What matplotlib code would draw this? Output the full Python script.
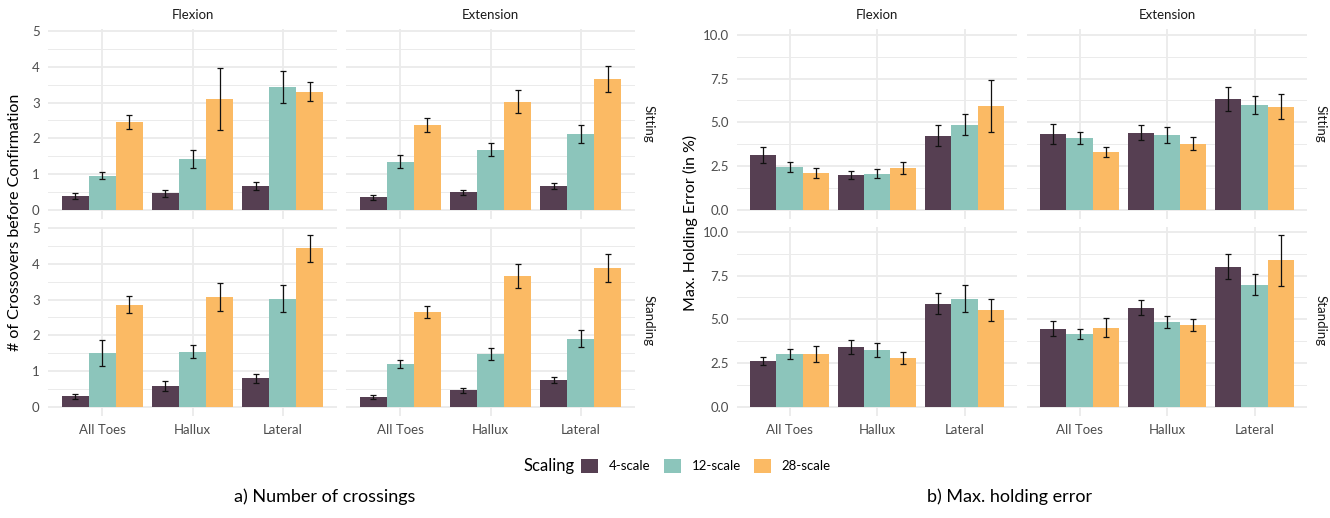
import numpy as np
import matplotlib
matplotlib.use("Agg")
import matplotlib.pyplot as plt
from matplotlib.patches import Patch

plt.rcParams['font.family'] = ['Lato', 'DejaVu Sans']

# ---------------- data ----------------
locations = ["All Toes", "Hallux", "Lateral"]
scales = ["4-scale", "12-scale", "28-scale"]
directions = ["Flexion", "Extension"]
postures = ["Sitting", "Standing"]
colors = ["#563F52", "#8CC5BB", "#FBBA64"]

# Number of crossings: [scale][location]
cross_flex_sit = [[0.39, 0.47, 0.67], [0.95, 1.42, 3.44], [2.46, 3.10, 3.30]]
cross_flex_sit_err = [[0.09, 0.10, 0.10], [0.10, 0.26, 0.44], [0.20, 0.86, 0.26]]
cross_ext_sit = [[0.36, 0.50, 0.67], [1.34, 1.68, 2.12], [2.37, 3.02, 3.66]]
cross_ext_sit_err = [[0.07, 0.07, 0.09], [0.18, 0.18, 0.24], [0.20, 0.32, 0.37]]
cross_flex_std = [[0.30, 0.58, 0.80], [1.51, 1.54, 3.02], [2.86, 3.07, 4.43]]
cross_flex_std_err = [[0.07, 0.14, 0.13], [0.37, 0.18, 0.38], [0.24, 0.39, 0.38]]
cross_ext_std = [[0.27, 0.47, 0.75], [1.20, 1.48, 1.90], [2.65, 3.66, 3.89]]
cross_ext_std_err = [[0.05, 0.07, 0.09], [0.12, 0.16, 0.24], [0.18, 0.34, 0.39]]

# Max. holding error (in %): [scale][location]
hold_flex_sit = [[3.14, 2.00, 4.23], [2.46, 2.06, 4.86], [2.11, 2.40, 5.94]]
hold_flex_sit_err = [[0.46, 0.25, 0.60], [0.29, 0.25, 0.59], [0.29, 0.36, 1.50]]
hold_ext_sit = [[4.34, 4.40, 6.34], [4.11, 4.29, 6.00], [3.31, 3.77, 5.89]]
hold_ext_sit_err = [[0.58, 0.42, 0.67], [0.32, 0.46, 0.52], [0.28, 0.37, 0.70]]
hold_flex_std = [[2.62, 3.42, 5.89], [3.02, 3.25, 6.18], [3.02, 2.79, 5.54]]
hold_flex_std_err = [[0.24, 0.40, 0.60], [0.27, 0.39, 0.77], [0.44, 0.34, 0.63]]
hold_ext_std = [[4.46, 5.66, 8.01], [4.17, 4.86, 6.98], [4.51, 4.68, 8.36]]
hold_ext_std_err = [[0.43, 0.44, 0.70], [0.28, 0.34, 0.58], [0.54, 0.36, 1.48]]

W, H = 1330, 518
fig = plt.figure(figsize=(W / 100, H / 100), dpi=100)

grid_col = "#EBEBEB"
tick_col = "#4D4D4D"
strip_col = "#1A1A1A"
small = 9.5


def px_axes(x0, y_top, w, h):
    return fig.add_axes([x0 / W, 1 - (y_top + h) / H, w / W, h / H])


def draw_panel(ax, vals, errs, ylim, major, minor, show_y, show_x, fmt):
    x = np.arange(1, len(locations) + 1)
    bw = 0.3
    for i, s in enumerate(scales):
        xs = x + (i - 1) * bw
        ax.bar(xs, vals[i], width=bw, color=colors[i], edgecolor="none", zorder=2)
        ax.errorbar(xs, vals[i], yerr=errs[i], fmt="none", ecolor="#111111",
                    elinewidth=0.9, capsize=2.0, capthick=0.9, zorder=3)
    ax.set_xlim(0.4, 3.6)
    ax.set_ylim(*ylim)
    ax.set_yticks(major)
    ax.set_yticks(minor, minor=True)
    ax.set_xticks(x)
    ax.grid(True, which="major", color=grid_col, linewidth=1.3, zorder=0)
    ax.grid(True, which="minor", axis="y", color=grid_col, linewidth=0.7, zorder=0)
    ax.set_axisbelow(True)
    for sp in ax.spines.values():
        sp.set_visible(False)
    ax.tick_params(which="both", length=0, colors=tick_col, labelsize=small)
    ax.tick_params(axis="y", pad=6)
    ax.tick_params(axis="x", pad=6)
    if show_y:
        ax.set_yticklabels([fmt(v) for v in major])
    else:
        ax.set_yticklabels([])
    if show_x:
        ax.set_xticklabels(locations)
    else:
        ax.set_xticklabels([])


row_top = [29.5, 226.5]
ph = 189

groups = [
    dict(xs=[48, 346], w=289, ylim=(-0.24, 5.04), major=[0, 1, 2, 3, 4, 5],
         minor=[0.5, 1.5, 2.5, 3.5, 4.5], fmt=lambda v: f"{v:g}",
         data=[[(cross_flex_sit, cross_flex_sit_err), (cross_ext_sit, cross_ext_sit_err)],
               [(cross_flex_std, cross_flex_std_err), (cross_ext_std, cross_ext_std_err)]],
         ylabel="# of Crossovers before Confirmation", ylabel_x=15,
         caption="a) Number of crossings", cap_x=325),
    dict(xs=[737, 1027], w=280, ylim=(-0.49, 10.3), major=[0, 2.5, 5, 7.5, 10],
         minor=[1.25, 3.75, 6.25, 8.75], fmt=lambda v: f"{v:.1f}",
         data=[[(hold_flex_sit, hold_flex_sit_err), (hold_ext_sit, hold_ext_sit_err)],
               [(hold_flex_std, hold_flex_std_err), (hold_ext_std, hold_ext_std_err)]],
         ylabel="Max. Holding Error (in %)", ylabel_x=690,
         caption="b) Max. holding error", cap_x=1010),
]

for g in groups:
    for r in range(2):
        for c in range(2):
            ax = px_axes(g["xs"][c], row_top[r], g["w"], ph)
            vals, errs = g["data"][r][c]
            draw_panel(ax, vals, errs, g["ylim"], g["major"], g["minor"],
                       show_y=(c == 0), show_x=(r == 1), fmt=g["fmt"])
            if r == 0:
                ax.annotate(directions[c], xy=(0.5, 1), xycoords="axes fraction",
                            xytext=(0, 10.5), textcoords="offset points",
                            ha="center", va="center", fontsize=small, color=strip_col)
            if c == 1:
                ax.annotate(postures[r], xy=(1, 0.5), xycoords="axes fraction",
                            xytext=(9.5, 0), textcoords="offset points",
                            ha="center", va="center", rotation=-90,
                            fontsize=small, color=strip_col)
    ymid = (row_top[0] + row_top[1] + ph) / 2
    fig.text(g["ylabel_x"] / W, 1 - ymid / H, g["ylabel"], rotation=90,
             ha="center", va="center", fontsize=11.5, color="black")
    fig.text(g["cap_x"] / W, 1 - 497 / H, g["caption"], ha="center", va="center",
             fontsize=13, color="black")

# legend
handles = [Patch(facecolor=colors[i], edgecolor="none", label=scales[i]) for i in range(3)]
fig.text(549 / W, 1 - 466 / H, "Scaling", ha="center", va="center", fontsize=12)
fig.legend(handles=handles, loc="center", bbox_to_anchor=(706 / W, 1 - 466 / H),
           ncol=3, frameon=False, fontsize=small, handlelength=1.3, handleheight=1.3,
           handletextpad=0.8, columnspacing=1.0, borderpad=0)

fig.savefig("out.png", dpi=100)
